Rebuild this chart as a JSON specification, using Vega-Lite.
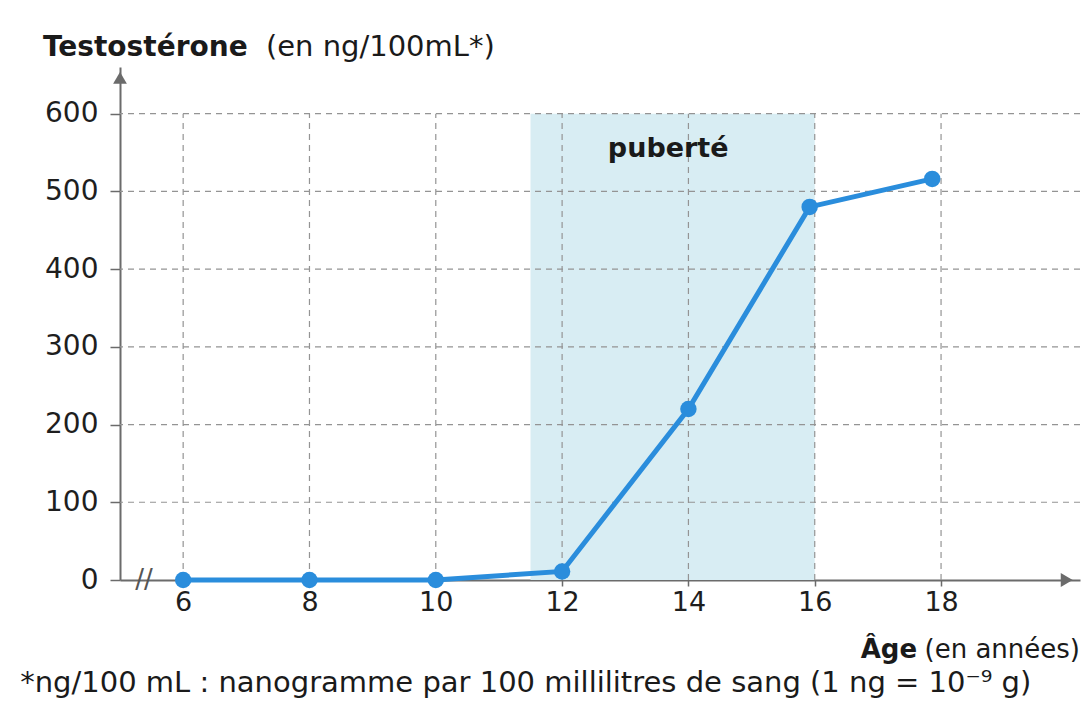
{
  "$schema": "https://vega.github.io/schema/vega-lite/v6.json",
  "width": 960,
  "height": 513,
  "autosize": {"type": "none"},
  "padding": {"left": 120, "top": 67, "right": 12, "bottom": 133},
  "background": "#ffffff",
  "config": {
    "view": {"stroke": null},
    "font": "DejaVu Sans",
    "axis": {"labelFont": "DejaVu Sans", "labelColor": "#1e1e1e", "domainColor": "#6b6b6b", "tickColor": "#6b6b6b", "domainWidth": 2, "tickWidth": 1.5}
  },
  "datasets": {
    "mesures": [
      {"age": 6, "testo": 0},
      {"age": 8, "testo": 0},
      {"age": 10, "testo": 0},
      {"age": 12, "testo": 11},
      {"age": 14, "testo": 220},
      {"age": 15.92, "testo": 480},
      {"age": 17.86, "testo": 516}
    ],
    "bande": [{"debut": 11.5, "fin": 16, "haut": 600, "bas": 0}],
    "gx": [{"age": 6}, {"age": 8}, {"age": 10}, {"age": 12}, {"age": 14}, {"age": 16}, {"age": 18}],
    "gy": [{"v": 100}, {"v": 200}, {"v": 300}, {"v": 400}, {"v": 500}, {"v": 600}]
  },
  "layer": [
    {
      "data": {"name": "bande"},
      "mark": {"type": "rect", "color": "#d8edf3"},
      "encoding": {
        "x": {"field": "debut", "type": "quantitative", "scale": {"domain": [5, 20.2], "nice": false, "zero": false},
              "axis": {"values": [6, 8, 10, 12, 14, 16, 18], "format": "d", "title": null, "grid": false, "tickSize": 6, "labelFontSize": 27, "labelPadding": 3, "zindex": 0}},
        "x2": {"field": "fin"},
        "y": {"field": "haut", "type": "quantitative", "scale": {"domain": [0, 660], "nice": false},
              "axis": {"values": [0, 100, 200, 300, 400, 500, 600], "format": "d", "title": null, "grid": false, "tickSize": 10, "labelFontSize": 28, "labelPadding": 12, "zindex": 0}},
        "y2": {"field": "bas"}
      }
    },
    {
      "data": {"name": "gx"},
      "mark": {"type": "rule", "color": "#949494", "strokeDash": [6, 5], "strokeWidth": 1.2},
      "encoding": {
        "x": {"field": "age", "type": "quantitative"},
        "y": {"datum": 0, "type": "quantitative"},
        "y2": {"datum": 600}
      }
    },
    {
      "data": {"name": "gy"},
      "mark": {"type": "rule", "color": "#949494", "strokeDash": [6, 5], "strokeWidth": 1.2},
      "encoding": {
        "y": {"field": "v", "type": "quantitative"}
      }
    },
    {
      "data": {"values": [{"age": 5.0, "v": 646, "forme": "triangle-up"}, {"age": 19.99, "v": 0, "forme": "triangle-right"}]},
      "mark": {"type": "point", "filled": true, "color": "#6b6b6b", "size": 190, "opacity": 1},
      "encoding": {
        "x": {"field": "age", "type": "quantitative"},
        "y": {"field": "v", "type": "quantitative"},
        "shape": {"field": "forme", "type": "nominal", "scale": null, "legend": null}
      }
    },
    {
      "data": {"values": [{"age": 5.38, "v": 0, "t": "//"}]},
      "mark": {"type": "text", "fontSize": 26, "color": "#555555", "baseline": "middle", "align": "center"},
      "encoding": {
        "x": {"field": "age", "type": "quantitative"},
        "y": {"field": "v", "type": "quantitative"},
        "text": {"field": "t"}
      }
    },
    {
      "data": {"name": "mesures"},
      "mark": {"type": "line", "color": "#2a8ddc", "strokeWidth": 5},
      "encoding": {
        "x": {"field": "age", "type": "quantitative"},
        "y": {"field": "testo", "type": "quantitative"}
      }
    },
    {
      "data": {"name": "mesures"},
      "mark": {"type": "point", "filled": true, "color": "#2a8ddc", "size": 270, "opacity": 1},
      "encoding": {
        "x": {"field": "age", "type": "quantitative"},
        "y": {"field": "testo", "type": "quantitative"}
      }
    },
    {
      "data": {"values": [{"age": 13.68, "v": 544, "t": "puberté"}]},
      "mark": {"type": "text", "fontSize": 27, "fontWeight": "bold", "color": "#1a1a1a", "align": "center", "baseline": "alphabetic"},
      "encoding": {
        "x": {"field": "age", "type": "quantitative"},
        "y": {"field": "v", "type": "quantitative"},
        "text": {"field": "t"}
      }
    },
    {
      "data": {"values": [{"age": 3.78, "v": 674, "t": "Testostérone"}]},
      "mark": {"type": "text", "fontSize": 28, "fontWeight": "bold", "color": "#1a1a1a", "align": "left", "baseline": "alphabetic"},
      "encoding": {
        "x": {"field": "age", "type": "quantitative"},
        "y": {"field": "v", "type": "quantitative"},
        "text": {"field": "t"}
      }
    },
    {
      "data": {"values": [{"age": 7.31, "v": 674, "t": "(en ng/100mL*)"}]},
      "mark": {"type": "text", "fontSize": 29, "color": "#1a1a1a", "align": "left", "baseline": "alphabetic"},
      "encoding": {
        "x": {"field": "age", "type": "quantitative"},
        "y": {"field": "v", "type": "quantitative"},
        "text": {"field": "t"}
      }
    },
    {
      "data": {"values": [{"age": 17.62, "v": -100, "t": "Âge"}]},
      "mark": {"type": "text", "fontSize": 26, "fontWeight": "bold", "color": "#1a1a1a", "align": "right", "baseline": "alphabetic"},
      "encoding": {
        "x": {"field": "age", "type": "quantitative"},
        "y": {"field": "v", "type": "quantitative"},
        "text": {"field": "t"}
      }
    },
    {
      "data": {"values": [{"age": 20.2, "v": -100, "t": "(en années)"}]},
      "mark": {"type": "text", "fontSize": 26, "color": "#1a1a1a", "align": "right", "baseline": "alphabetic"},
      "encoding": {
        "x": {"field": "age", "type": "quantitative"},
        "y": {"field": "v", "type": "quantitative"},
        "text": {"field": "t"}
      }
    },
    {
      "data": {"values": [{"age": 3.42, "v": -144, "t": "*ng/100 mL : nanogramme par 100 millilitres de sang (1 ng = 10⁻⁹ g)"}]},
      "mark": {"type": "text", "fontSize": 29, "color": "#1a1a1a", "align": "left", "baseline": "alphabetic"},
      "encoding": {
        "x": {"field": "age", "type": "quantitative"},
        "y": {"field": "v", "type": "quantitative"},
        "text": {"field": "t"}
      }
    }
  ]
}
